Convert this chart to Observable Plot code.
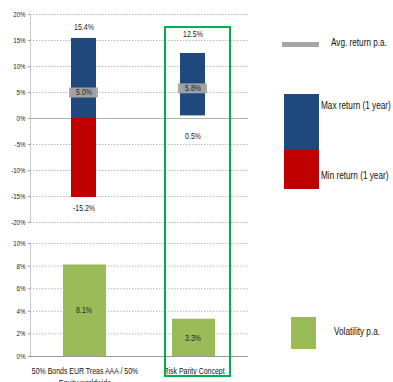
<!DOCTYPE html>
<html>
<head>
<meta charset="utf-8">
<script src="https://cdn.jsdelivr.net/npm/d3@7"></script>
<script src="https://cdn.jsdelivr.net/npm/@observablehq/plot@0.6"></script>
<style>
  html, body { margin: 0; padding: 0; background: #fff; }
  #chart { position: relative; width: 393px; height: 382px; overflow: hidden;
    font-family: "Liberation Sans", Arial, sans-serif; color: #111; }
  #chart svg { position: absolute; left: 0; overflow: visible; }
  .legend { position: absolute; font-size: 10px; white-space: nowrap; transform: scaleX(0.82); transform-origin: left center; }
  .swatch { position: absolute; }
  #highlight { position: absolute; left: 164px; top: 26px; width: 63px; height: 347px;
    border: 2px solid #00b050; pointer-events: none; }
</style>
</head>
<body>
<div id="chart"></div>
<script>
// Portfolio comparison: 1-year return range with average, and annual volatility
const categories = ["50% Bonds EUR Treas AAA / 50% Equity worldwide", "Risk Parity Concept"];
const maxReturn = [15.4, 12.5];
const minReturn = [-15.2, 0.5];
const avgReturn = [5.0, 5.8];
const volatility = [8.1, 3.3];
const returnTicks = [-20, -15, -10, -5, 0, 5, 10, 15, 20];
const volTicks = [0, 2, 4, 6, 8, 10];

const BLUE = "#1f497d", RED = "#c00000", GREEN = "#9bbb59", GRAY = "#a6a6a6";
const FONT = '"Liberation Sans", Arial, sans-serif';
const fmt = d => d.toFixed(1) + "%";

const rows = categories.map((c, i) => ({
  cat: c, max: maxReturn[i], min: minReturn[i], avg: avgReturn[i], vol: volatility[i]
}));
// positive part of the range (blue) and negative part (red)
const upper = rows.map(d => ({cat: d.cat, y1: Math.max(0, d.min), y2: d.max}));
const lower = rows.filter(d => d.min < 0).map(d => ({cat: d.cat, y1: d.min, y2: 0}));

// vertical axis line at the left edge of the first band
const leftEdge = (y1, y2) => Plot.ruleX([categories[0]], {x: d => d, y1, y2, dx: -54.5, stroke: "#c8c8c8"});
// value label: text shows field `key`, placed at position `y` (defaults to the value itself)
const label = (data, key, dy, y = key) =>
  Plot.text(data, {x: "cat", y, text: d => fmt(d[key]), dy, dx: -1, fontSize: 8.5, fill: "#222"});

const returnChart = Plot.plot({
  width: 393, height: 232,
  marginLeft: 30, marginRight: 145, marginTop: 14, marginBottom: 10,
  style: {fontFamily: FONT, fontSize: "8px", color: "#222", background: "transparent"},
  x: {domain: categories, padding: 0, axis: null},
  y: {domain: [-20, 20]},
  marks: [
    Plot.ruleY(returnTicks.filter(t => t !== 0), {stroke: "#bbb", strokeDasharray: "1.5,1.5", strokeWidth: 1}),
    Plot.ruleY([0], {stroke: "#b0b0b0", strokeWidth: 1}),
    leftEdge(-20, 20),
    Plot.axisY({ticks: returnTicks, tickFormat: d => d + "%", tickSize: 2, tickPadding: 3, stroke: "#999", fontSize: 7.5, label: null}),
    Plot.rectY(upper, {x: "cat", y1: "y1", y2: "y2", fill: BLUE, insetLeft: 41, insetRight: 43}),
    Plot.rectY(lower, {x: "cat", y1: "y1", y2: "y2", fill: RED, insetLeft: 41, insetRight: 43}),
    Plot.tickY(rows, {x: "cat", y: "avg", stroke: GRAY, strokeWidth: 10, strokeOpacity: 0.95, insetLeft: 39, insetRight: 41}),
    label(rows, "avg", 0),
    label(rows.slice(0, 1), "max", -11),
    label(rows.slice(1), "max", -19),
    label(rows.slice(0, 1), "min", 11),
    label(rows.slice(1), "min", 20)
  ]
});
returnChart.style.top = "0px";

const volChart = Plot.plot({
  width: 393, height: 152,
  marginLeft: 30, marginRight: 145, marginTop: 13, marginBottom: 26,
  style: {fontFamily: FONT, fontSize: "8px", color: "#222", background: "transparent"},
  x: {domain: categories, padding: 0, label: null},
  y: {domain: [0, 10], label: null},
  marks: [
    Plot.ruleY(volTicks.filter(t => t !== 0), {stroke: "#bbb", strokeDasharray: "1.5,1.5", strokeWidth: 1}),
    Plot.axisY({ticks: volTicks, tickFormat: d => d + "%", tickSize: 2, tickPadding: 3, stroke: "#999", fontSize: 7.5, label: null}),
    leftEdge(0, 10),
    Plot.rectY(rows, {x: "cat", y: "vol", fill: GREEN, insetLeft: 33, insetRight: 33}),
    // labels at the middle of each bar
    label(rows, "vol", 0, d => d.vol / 2),
    Plot.ruleY([0], {stroke: "#999"}),
    Plot.axisX({tickSize: 0, tickPadding: 9, fontSize: 8.5, lineWidth: 40, lineHeight: 1.4, fill: "#111", label: null,
      tickFormat: d => d.startsWith("50%") ? "50% Bonds EUR Treas AAA / 50%\nEquity worldwide" : d})
  ]
});
volChart.style.top = "230px";

const chart = document.getElementById("chart");
chart.append(returnChart, volChart);

// condense all chart text horizontally around its anchor (narrow typeface look)
chart.querySelectorAll("svg text").forEach(t => {
  const tr = t.getAttribute("transform");
  if (tr) t.setAttribute("transform", tr + " scale(0.82,1)");
  else {
    const x = +(t.getAttribute("x") || 0);
    t.setAttribute("transform", `translate(${x},0) scale(0.82,1) translate(${-x},0)`);
  }
});

// legend
chart.insertAdjacentHTML("beforeend", `
  <div class="swatch" style="left:282px;top:42px;width:37px;height:5px;background:${GRAY}"></div>
  <div class="legend" style="left:331px;top:37px;">Avg. return p.a.</div>
  <div class="swatch" style="left:284px;top:94px;width:35px;height:56px;background:${BLUE}"></div>
  <div class="swatch" style="left:284px;top:150px;width:35px;height:39px;background:${RED}"></div>
  <div class="legend" style="left:321px;top:100px;">Max return (1 year)</div>
  <div class="legend" style="left:321px;top:170px;">Min return (1 year)</div>
  <div class="swatch" style="left:291px;top:317px;width:25px;height:32px;background:${GREEN}"></div>
  <div class="legend" style="left:334px;top:326px;">Volatility p.a.</div>
  <div id="highlight"></div>
`);
</script>
</body>
</html>
